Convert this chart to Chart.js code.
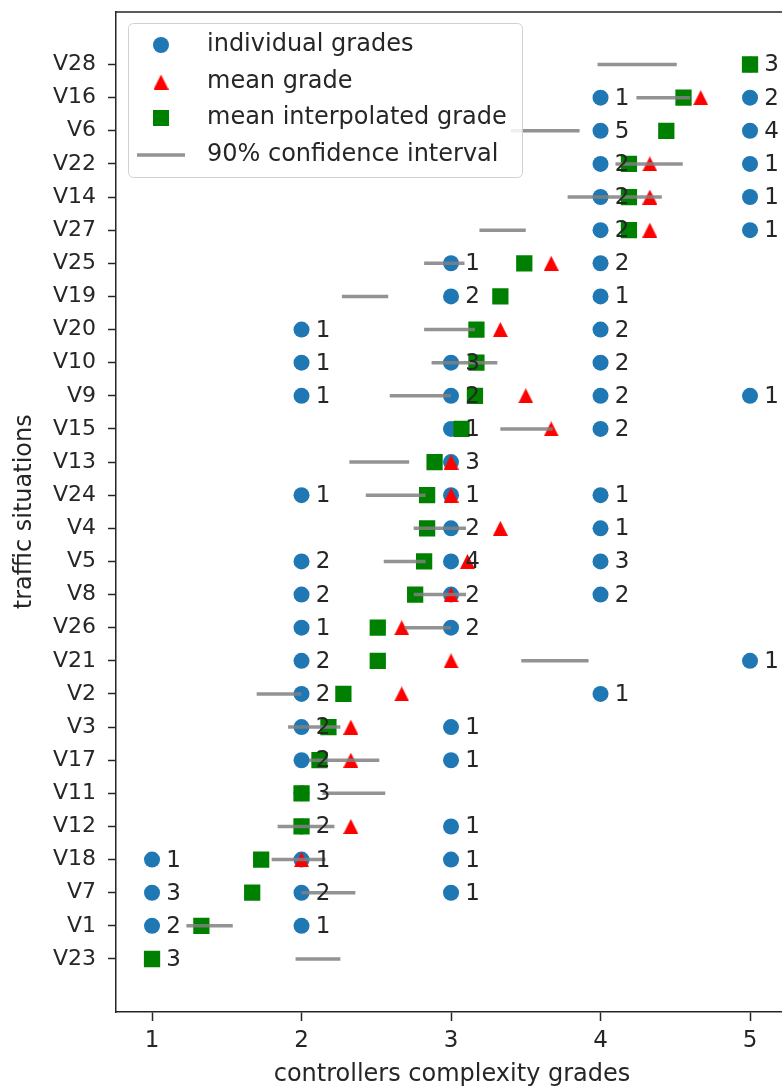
<!DOCTYPE html>
<html><head><meta charset="utf-8">
<script src="https://cdn.jsdelivr.net/npm/chart.js@4.4.1/dist/chart.umd.min.js"></script>
<style>
html,body{margin:0;padding:0;background:#fff;overflow:hidden;width:782px;height:1091px;}
#wrap{position:absolute;left:0;top:0;width:800px;height:1091px;}
</style></head><body>
<div id="wrap"><canvas id="c" width="800" height="1091"></canvas></div>
<script>
// ---- data (rows listed top to bottom) ----
const categories = ['V28','V16','V6','V22','V14','V27','V25','V19','V20','V10','V9','V15','V13','V24','V4','V5','V8','V26','V21','V2','V3','V17','V11','V12','V18','V7','V1','V23'];
// number of controllers that gave each grade
const countGrade1 = [0,0,0,0,0,0,0,0,0,0,0,0,0,0,0,0,0,0,0,0,0,0,0,0,1,3,2,3];
const countGrade2 = [0,0,0,0,0,0,0,0,1,1,1,0,0,1,0,2,2,1,2,2,2,2,3,2,1,2,1,0];
const countGrade3 = [0,0,0,0,0,0,1,2,0,3,2,1,3,1,2,4,2,2,0,0,1,1,0,1,1,1,0,0];
const countGrade4 = [0,1,5,2,2,2,2,1,2,2,2,2,0,1,1,3,2,0,0,1,0,0,0,0,0,0,0,0];
const countGrade5 = [3,2,4,1,1,1,0,0,0,0,1,0,0,0,0,0,0,0,1,0,0,0,0,0,0,0,0,0];
const meanGrade = [5.0,4.67,4.44,4.33,4.33,4.33,3.67,3.33,3.33,3.17,3.5,3.67,3.0,3.0,3.33,3.11,3.0,2.67,3.0,2.67,2.33,2.33,2.0,2.33,2.0,1.67,1.33,1.0];
const meanInterpolated = [5.0,4.555,4.44,4.19,4.19,4.19,3.49,3.33,3.17,3.17,3.16,3.07,2.89,2.84,2.84,2.82,2.76,2.51,2.51,2.28,2.18,2.12,2.0,2.0,1.73,1.67,1.33,1.0];
const ciLow  = [3.98,4.24,3.4,4.1,3.78,3.19,2.82,2.27,2.82,2.87,2.59,3.33,2.32,2.43,2.75,2.55,2.75,2.69,3.47,1.70,1.91,2.05,2.14,1.84,1.80,2.00,1.23,1.96];
const ciHigh = [4.51,4.60,3.86,4.55,4.41,3.50,3.09,2.58,3.16,3.31,3.00,3.68,2.72,2.83,3.10,2.83,3.10,3.00,3.92,2.00,2.26,2.52,2.56,2.22,2.16,2.36,1.54,2.26];
const gradeValues = [1,2,3,4,5];
const xTickValues = [1,2,3,4,5];
const legendLabels = ['individual grades','mean grade','mean interpolated grade','90% confidence interval'];
const xTitle = 'controllers complexity grades';
const yTitle = 'traffic situations';

// ---- build library data ----
const countsByGrade = [countGrade1,countGrade2,countGrade3,countGrade4,countGrade5];
const individualPts = [];
categories.forEach((c,i)=>{
  gradeValues.forEach((g,k)=>{
    const n = countsByGrade[k][i];
    if (n>0) individualPts.push({x:g, y:i, n:n});
  });
});
const meanPts = meanGrade.map((v,i)=>({x:v,y:i}));
const interpPts = meanInterpolated.map((v,i)=>({x:v,y:i}));
const ciPts = [];
categories.forEach((c,i)=>{
  ciPts.push({x:ciLow[i],y:i},{x:ciHigh[i],y:i},{x:null,y:null});
});

const BLUE='#1f77b4', RED='#ff0000', GREEN='#008000', GRAY='rgba(128,128,128,0.85)', TXT='#262626', FONT='"DejaVu Sans", sans-serif';
Chart.defaults.font.family = FONT;

// matplotlib-like '^' marker: width equal to height
function makeTriangle(size, color){
  const cv=document.createElement('canvas'); cv.width=size; cv.height=size;
  const c=cv.getContext('2d'); c.fillStyle=color; c.beginPath();
  c.moveTo(size/2,0); c.lineTo(size,size); c.lineTo(0,size); c.closePath(); c.fill();
  return cv;
}
const TRI = makeTriangle(15, RED);

const annot = {
  id:'annot',
  afterDatasetsDraw(chart){
    const ctx=chart.ctx, xs=chart.scales.x, ys=chart.scales.y, a=chart.chartArea;
    ctx.save();
    ctx.strokeStyle='#262626'; ctx.lineWidth=1.5;
    ctx.beginPath(); ctx.moveTo(a.left, a.top+0.5); ctx.lineTo(a.right, a.top+0.5); ctx.lineTo(a.right, a.bottom); ctx.stroke();
    ctx.fillStyle=TXT; ctx.font='23px '+FONT; ctx.textAlign='left'; ctx.textBaseline='middle';
    individualPts.forEach(p=>{
      ctx.fillText(String(p.n), xs.getPixelForValue(p.x+0.095), ys.getPixelForValue(p.y)+1);
    });
    ctx.restore();
  },
  afterDraw(chart){
    const ctx=chart.ctx;
    ctx.save();
    const bx=128, by=23, bw=394, bh=154;
    ctx.beginPath();
    if (ctx.roundRect) ctx.roundRect(bx+0.5,by+0.5,bw,bh,5); else ctx.rect(bx+0.5,by+0.5,bw,bh);
    ctx.fillStyle='rgba(255,255,255,0.85)'; ctx.fill();
    ctx.strokeStyle='#d0d0d0'; ctx.lineWidth=1; ctx.stroke();
    const mx=161, tx=207, rows=[45,82,118,155];
    ctx.fillStyle=BLUE; ctx.beginPath(); ctx.arc(mx,rows[0],8,0,Math.PI*2); ctx.fill();
    ctx.drawImage(TRI, mx-7.5, rows[1]-7.5);
    ctx.fillStyle=GREEN; ctx.fillRect(mx-8,rows[2]-8,16,16);
    ctx.strokeStyle=GRAY; ctx.lineWidth=3.5; ctx.beginPath(); ctx.moveTo(137,rows[3]); ctx.lineTo(185,rows[3]); ctx.stroke();
    ctx.fillStyle=TXT; ctx.font='24px '+FONT; ctx.textAlign='left'; ctx.textBaseline='middle';
    legendLabels.forEach((l,i)=>ctx.fillText(l,tx,rows[i]));
    ctx.restore();
  }
};

new Chart(document.getElementById('c'), {
  type:'scatter',
  data:{datasets:[
    {label:legendLabels[3], data:ciPts, showLine:true, spanGaps:false, borderColor:GRAY, borderWidth:3.5, pointRadius:0, borderCapStyle:'butt', fill:false},
    {label:legendLabels[2], data:interpPts, pointStyle:'rect', pointRadius:11.5, backgroundColor:GREEN, borderWidth:0},
    {label:legendLabels[1], data:meanPts, pointStyle:TRI, pointRadius:8, backgroundColor:RED, borderWidth:0},
    {label:legendLabels[0], data:individualPts, pointStyle:'circle', pointRadius:8, backgroundColor:BLUE, borderWidth:0}
  ]},
  options:{
    responsive:false, animation:false, devicePixelRatio:1, events:[],
    layout:{padding:{top:10,right:12,left:0,bottom:0}},
    plugins:{legend:{display:false}, tooltip:{enabled:false}},
    scales:{
      x:{type:'linear', min:0.759, max:5.254,
        afterBuildTicks(ax){ ax.ticks = xTickValues.map(v=>({value:v})); },
        afterFit(ax){ ax.height=79; ax.paddingLeft=0; ax.paddingRight=0; },
        ticks:{font:{size:23}, color:TXT, padding:6, autoSkip:false, maxRotation:0, callback:v=>String(v)},
        grid:{display:true, drawOnChartArea:false, drawTicks:true, tickLength:9, tickWidth:1.5, tickColor:'#262626'},
        border:{display:true, color:'#262626', width:1.5},
        title:{display:true, text:xTitle, color:TXT, font:{size:24}, padding:{top:0,bottom:2}}
      },
      y:{type:'linear', reverse:true, min:-1.6, max:28.6,
        afterBuildTicks(ax){ ax.ticks = categories.map((c,i)=>({value:i})); },
        afterFit(ax){ ax.width=116; ax.paddingTop=0; ax.paddingBottom=0; },
        ticks:{font:{size:22}, color:TXT, padding:12, autoSkip:false, callback:v=>categories[v]},
        grid:{display:true, drawOnChartArea:false, drawTicks:true, tickLength:8, tickWidth:1.5, tickColor:'#262626'},
        border:{display:true, color:'#262626', width:1.5},
        title:{display:true, text:yTitle, color:TXT, font:{size:24}, padding:{top:10,bottom:0}}
      }
    }
  },
  plugins:[annot]
});
</script>
</body></html>
